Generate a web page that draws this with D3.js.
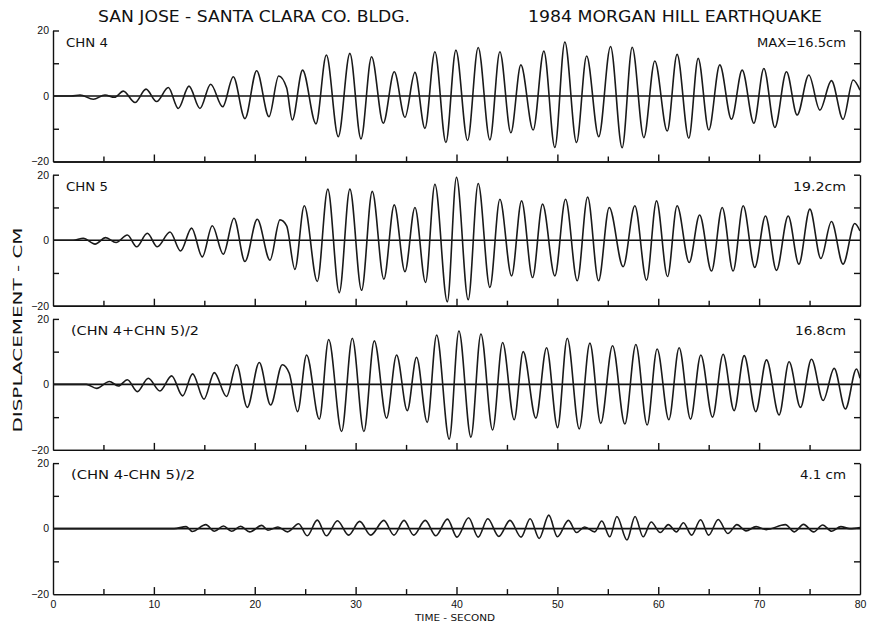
<!DOCTYPE html>
<html lang="en">
  <head>
    <meta charset="UTF-8" />
    <title>Morgan Hill displacement</title>
    <script src="https://cdn.jsdelivr.net/npm/d3@7"></script>
    <style>
      html,
      body {
        margin: 0;
        padding: 0;
        background: #fff;
      }
      svg {
        display: block;
        font-family: 'DejaVu Sans Condensed', 'DejaVu Sans', sans-serif;
        font-stretch: condensed;
      }
      .axis path,
      .axis line {
        stroke: #111;
        stroke-width: 1.4;
      }
      .axis text {
        fill: #111;
        font-size: 10.5px;
      }
    </style>
  </head>
  <body>
    <svg width="869" height="626"></svg>
    <script>
      // peaks and troughs: [time s, displacement cm]
      const chn4 = [
        [0, 0], [1.8, 0], [2.68, 0.3], [4.0, -1.0], [5.15, 0.3], [6.1, -0.4], [6.97, 1.5],
        [8.13, -2.0], [9.22, 2.1], [10.27, -1.7], [11.43, 2.6], [12.42, -3.8], [13.48, 3.0],
        [14.57, -3.8], [15.63, 3.6], [16.82, -3.3], [17.87, 5.9], [19.03, -6.9], [20.19, 7.7],
        [21.41, -6.3], [22.37, 6.1], [23.16, 2.5], [23.72, -7.3], [24.74, 7.9], [26.07, -8.5],
        [27.1, 12.5], [28.28, -12.4], [29.43, 13.0], [30.53, -13.1], [31.58, 12.0], [32.74, -8.3],
        [33.83, 7.4], [34.89, -6.5], [35.88, 7.2], [36.87, -9.9], [37.86, 13.5], [38.95, -14.2],
        [39.94, 14.0], [41.1, -13.6], [42.15, 14.8], [43.31, -13.4], [44.3, 13.5], [45.39, -11.2],
        [46.38, 9.5], [47.6, -10.4], [48.66, 13.7], [49.75, -15.7], [50.74, 16.5], [51.9, -14.2],
        [52.9, 12.2], [54.1, -12.4], [55.27, 15.1], [56.42, -15.8], [57.42, 14.9], [58.57, -12.7],
        [59.66, 10.7], [60.89, -10.7], [61.87, 12.7], [63.03, -12.9], [63.96, 11.5], [65.01, -10.4],
        [66.1, 9.5], [67.26, -7.1], [68.32, 7.9], [69.48, -8.3], [70.47, 8.4], [71.56, -9.6],
        [72.71, 7.4], [73.77, -5.8], [74.93, 6.4], [76.02, -4.3], [77.17, 4.7], [78.32, -7.1],
        [79.32, 4.9], [80, 1.8]
      ];

      const chn5 = [
        [0, 0], [2.0, 0], [3.0, 0.6], [4.17, -1.2], [5.22, 0.8], [6.25, -0.7], [7.37, 1.6],
        [8.29, -2.0], [9.35, 2.1], [10.34, -2.0], [11.6, 2.5], [12.65, -3.3], [13.74, 3.7],
        [14.8, -5.1], [15.79, 4.4], [16.88, -4.3], [17.94, 6.7], [19.03, -6.5], [20.25, 6.4],
        [21.51, -6.1], [22.5, 6.2], [23.16, 4.4], [23.98, -8.9], [24.91, 10.5], [26.2, -12.6],
        [27.24, 15.6], [28.38, -16.0], [29.43, 15.6], [30.59, -15.3], [31.65, 14.9], [32.8, -11.9],
        [33.83, 10.8], [34.89, -9.6], [35.88, 10.0], [36.93, -12.9], [37.86, 17.1], [39.09, -18.8],
        [40.0, 19.2], [41.16, -18.2], [42.15, 17.3], [43.31, -14.4], [44.3, 12.5], [45.46, -10.9],
        [46.45, 12.0], [47.54, -11.4], [48.53, 11.0], [49.75, -10.9], [50.81, 12.5], [51.97, -12.4],
        [53.0, 13.2], [54.08, -12.4], [55.14, 10.0], [56.52, -8.1], [57.68, 10.5], [58.84, -12.2],
        [59.83, 12.0], [60.92, -11.1], [61.87, 10.5], [63.07, -6.8], [64.1, 7.7], [65.28, -9.4],
        [66.34, 10.0], [67.42, -9.4], [68.42, 10.5], [69.57, -8.3], [70.63, 7.4], [71.72, -9.2],
        [72.88, 7.4], [73.94, -7.3], [75.03, 9.5], [76.12, -5.6], [77.17, 5.7], [78.32, -7.3],
        [79.48, 5.1], [80, 2.8]
      ];

      const chnSum = [
        [0, 0], [3.3, 0], [4.33, -1.2], [5.59, 0.9], [6.48, -0.5], [7.37, 1.4], [8.36, -2.2],
        [9.45, 1.9], [10.6, -2.0], [11.76, 2.6], [12.85, -3.5], [13.84, 3.2], [14.97, -4.5],
        [15.99, 3.6], [17.2, -3.7], [18.2, 6.0], [19.26, -7.0], [20.45, 6.7], [21.57, -6.3],
        [22.73, 6.0], [23.42, 3.4], [24.25, -8.3], [25.14, 9.0], [26.4, -10.6], [27.33, 13.7],
        [28.61, -14.4], [29.67, 14.1], [30.82, -14.4], [31.85, 13.3], [33.07, -10.3], [34.06, 9.0],
        [35.12, -8.0], [36.04, 8.3], [37.1, -11.6], [38.03, 15.1], [39.28, -16.7], [40.24, 16.3],
        [41.43, -16.1], [42.42, 15.4], [43.58, -13.9], [44.57, 12.8], [45.72, -10.8], [46.61, 10.0],
        [47.87, -10.3], [48.93, 11.2], [50.02, -13.2], [50.98, 14.1], [52.17, -13.6], [53.22, 12.6],
        [54.3, -11.9], [55.47, 11.8], [56.69, -12.1], [57.78, 12.2], [58.9, -12.4], [59.89, 10.8],
        [61.05, -10.8], [62.07, 11.2], [63.2, -10.6], [64.22, 9.0], [65.38, -10.0], [66.43, 9.2],
        [67.52, -8.0], [68.52, 8.8], [69.67, -8.3], [70.73, 7.5], [71.98, -9.3], [72.97, 6.9],
        [74.1, -7.0], [75.19, 7.7], [76.35, -4.9], [77.44, 4.9], [78.55, -7.5], [79.65, 4.7],
        [80, 1.9]
      ];

      const chnDiff = [
        [0, 0], [12, 0], [13.2, 0.6], [13.8, -0.9], [15.15, 1.2], [16.0, -0.8], [16.9, 0.8],
        [17.7, -0.8], [18.6, 0.7], [19.5, -1.0], [20.7, 1.0], [21.3, -0.5], [22.3, 0.5],
        [23.25, -1.0], [24.35, 1.5], [25.2, -2.2], [26.2, 2.6], [27.1, -2.2], [28.2, 2.4],
        [29.3, -2.0], [30.4, 2.2], [31.5, -2.0], [32.8, 2.5], [33.8, -2.0], [34.8, 2.5],
        [35.75, -2.0], [36.9, 2.5], [37.95, -2.2], [39.1, 2.9], [40.05, -2.6], [41.2, 3.3],
        [42.15, -2.6], [43.1, 3.0], [44.2, -2.4], [45.3, 2.5], [46.4, -2.6], [47.3, 3.0],
        [48.2, -3.0], [49.15, 4.1], [50.0, -2.5], [51.1, 2.5], [51.9, -1.2], [52.7, 0.5],
        [53.7, -1.0], [54.4, 2.3], [55.2, -2.5], [55.9, 3.7], [56.9, -3.5], [57.7, 3.7],
        [58.5, -2.5], [59.3, 2.0], [60.2, -1.2], [61.0, 1.2], [61.8, -1.0], [62.5, 1.8],
        [63.3, -2.0], [64.2, 2.7], [65.0, -2.0], [65.95, 2.8], [66.9, -1.5], [67.8, 1.2],
        [68.7, -0.7], [69.7, 0.6], [70.7, -0.3], [72.6, 1.2], [73.5, -1.0], [74.4, 1.3],
        [75.4, -1.0], [76.3, 1.1], [77.2, -0.8], [78.1, 0.6], [79, 0], [80, 0.3]
      ];

      const channels = ['CHN  4', 'CHN  5', '(CHN  4+CHN  5)/2', '(CHN  4-CHN  5)/2'];
      const maxLabels = ['MAX=16.5cm', '19.2cm', '16.8cm', '4.1 cm'];
      const series = [chn4, chn5, chnSum, chnDiff];
      const xTicks = [0, 10, 20, 30, 40, 50, 60, 70, 80];
      const xMinorTicks = [5, 15, 25, 35, 45, 55, 65, 75];
      const yLabels = [-20, 0, 20];
      const yMinorTicks = [-10, 10, 20];

      // text widths measured on the reference
      const channelWidths = [42, 42, 128, 124];
      const maxWidths = [89, 53, 51, 46];

      const svg = d3.select('svg');
      const XScale = d3.scaleLinear().domain([0, 80]).range([53, 860]);
      const panelH = 131;

      series.forEach(function(data, i) {
        const top = 30.5 + i * 144.2;
        const YScale = d3.scaleLinear().domain([-20, 20]).range([top + panelH, top]);
        const g = svg.append('g');

        // frame: bottom with inward ticks
        g.append('g')
          .attr('class', 'axis')
          .attr('transform', 'translate(0,' + (top + panelH) + ')')
          .call(d3.axisBottom(XScale).tickValues(xMinorTicks).tickSize(-5).tickSizeOuter(0).tickFormat(''));
        g.append('g')
          .attr('class', 'axis')
          .attr('transform', 'translate(0,' + (top + panelH) + ')')
          .call(d3.axisBottom(XScale).tickValues(xTicks.slice(1, -1)).tickSize(-7).tickSizeOuter(0).tickFormat(''));

        // left side: labels + inward ticks
        g.append('g')
          .attr('class', 'axis')
          .attr('transform', 'translate(' + XScale(0) + ',0)')
          .call(d3.axisLeft(YScale).tickValues(yMinorTicks).tickSize(-6).tickSizeOuter(0).tickFormat(''));
        g.append('g')
          .attr('class', 'axis')
          .attr('transform', 'translate(' + XScale(0) + ',0)')
          .call(d3.axisLeft(YScale).tickValues(yLabels).tickSize(0).tickPadding(4))
          .call(function(a) { a.select('.domain').remove(); });

        // right side
        g.append('g')
          .attr('class', 'axis')
          .attr('transform', 'translate(' + XScale(80) + ',0)')
          .call(d3.axisRight(YScale).tickValues(yMinorTicks).tickSize(-6).tickSizeOuter(0).tickFormat(''));

        // zero line
        g.append('line')
          .attr('x1', XScale(0))
          .attr('x2', XScale(80))
          .attr('y1', YScale(0))
          .attr('y2', YScale(0))
          .style('stroke', '#111')
          .style('stroke-width', 1.6);

        const line = d3.line()
          .x(function(d) { return XScale(d[0]); })
          .y(function(d) { return YScale(d[1]); })
          .curve(d3.curveMonotoneX);

        g.append('path')
          .datum(data)
          .attr('d', line)
          .style('fill', 'none')
          .style('stroke', '#1a1a1a')
          .style('stroke-width', 1.6);

        g.append('text')
          .attr('x', i < 2 ? 66 : 71)
          .attr('y', top + 16)
          .attr('textLength', channelWidths[i])
          .attr('lengthAdjust', 'spacingAndGlyphs')
          .style('font-size', '13px')
          .style('fill', '#111')
          .text(channels[i]);

        g.append('text')
          .attr('x', 846 - maxWidths[i])
          .attr('y', top + 16)
          .attr('textLength', maxWidths[i])
          .attr('lengthAdjust', 'spacingAndGlyphs')
          .style('font-size', '13px')
          .style('fill', '#111')
          .text(maxLabels[i]);

        if (i === series.length - 1) {
          g.append('g')
            .attr('class', 'axis')
            .attr('transform', 'translate(0,' + (top + panelH) + ')')
            .call(d3.axisBottom(XScale).tickValues(xTicks).tickSize(0).tickPadding(6))
            .call(function(a) { a.select('.domain').remove(); });
        }
      });

      svg.append('text')
        .attr('x', 98)
        .attr('y', 22)
        .attr('textLength', 312)
        .attr('lengthAdjust', 'spacingAndGlyphs')
        .style('font-size', '16px')
        .style('fill', '#111')
        .text('SAN JOSE - SANTA CLARA CO. BLDG.');

      svg.append('text')
        .attr('x', 528)
        .attr('y', 22)
        .attr('textLength', 294)
        .attr('lengthAdjust', 'spacingAndGlyphs')
        .style('font-size', '16px')
        .style('fill', '#111')
        .text('1984 MORGAN HILL EARTHQUAKE');

      svg.append('text')
        .attr('transform', 'translate(22,330) rotate(-90)')
        .attr('text-anchor', 'middle')
        .attr('textLength', 205)
        .attr('lengthAdjust', 'spacingAndGlyphs')
        .style('font-size', '12px')
        .style('fill', '#111')
        .text('DISPLACEMENT - CM');

      svg.append('text')
        .attr('x', 455)
        .attr('y', 621)
        .attr('text-anchor', 'middle')
        .attr('textLength', 80)
        .attr('lengthAdjust', 'spacingAndGlyphs')
        .style('font-size', '9px')
        .style('fill', '#111')
        .text('TIME - SECOND');
    </script>
  </body>
</html>
